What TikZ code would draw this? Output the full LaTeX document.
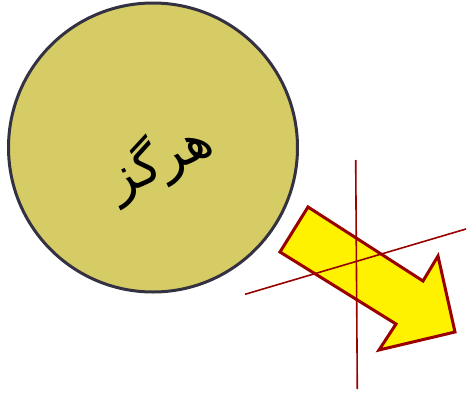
\documentclass[tikz,border=0pt]{standalone}
\usepackage{fontspec}
\newfontfamily\arabicfont[Script=Arabic]{DejaVu Sans}
\TeXXeTstate=1
\definecolor{circfill}{RGB}{214,204,102}
\definecolor{circdraw}{RGB}{52,50,66}
\definecolor{darkred}{RGB}{153,0,0}
\tikzset{
  disc/.style={circle, fill=circfill, draw=circdraw, line width=3pt, minimum size=289pt, inner sep=0pt},
  redline/.style={draw=darkred, line width=1.6pt},
  bigarrow/.style={fill=yellow, draw=darkred, line width=3pt, line join=miter},
  label/.style={font=\arabicfont\fontsize{52}{62}\selectfont, inner sep=0pt}
}
\begin{document}
\begin{tikzpicture}[x=1pt,y=-1pt]
\useasboundingbox (0,0) rectangle (469,394);
\node[disc] (c) at (153,147.5) {};
\node[label, rotate=25] (t) at (160,160) {\beginR هرگز\endR};
\coordinate (a1) at (308,207);
\coordinate (a2) at (280,252);
\coordinate (a3) at (396,324);
\coordinate (a4) at (379,350);
\coordinate (a5) at (455,332);
\coordinate (a6) at (438,256);
\coordinate (a7) at (423,281);
\coordinate (v1) at (355.7,160);
\coordinate (v2) at (357.3,389);
\coordinate (h1) at (245,294.3);
\coordinate (h2) at (466,229);
\path[bigarrow] (a1) -- (a2) -- (a3) -- (a4) -- (a5) -- (a6) -- (a7) -- cycle;
\draw[redline] (v1) -- (v2);
\draw[redline] (h1) -- (h2);
\end{tikzpicture}
\end{document}
